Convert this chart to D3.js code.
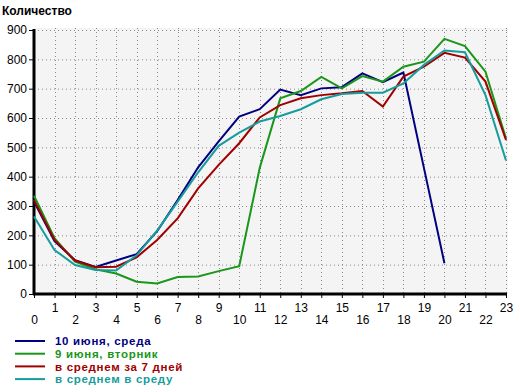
<!DOCTYPE html>
<html><head><meta charset="utf-8">
<script src="https://cdn.jsdelivr.net/npm/d3@7/dist/d3.min.js"></script>
<style>body{margin:0;background:#fff;}svg{display:block;}</style>
</head><body>
<script>
const hours = d3.range(0, 24);
const yTicks = [0,100,200,300,400,500,600,700,800,900];
const seriesNames = ["10 июня, среда","9 июня, вторник","в среднем за 7 дней","в среднем в среду"];
const seriesColors = ["#000080","#1a961a","#a00000","#169c9c"];
const wed10 = [315,180,115,92,114,136,214,320,432,520,605,630,697,678,701,705,752,722,755,430,105];
const tue9  = [335,190,110,84,70,42,36,58,60,78,95,430,667,692,740,701,743,724,775,792,870,845,758,530];
const avg7  = [320,184,114,91,93,125,184,258,360,440,514,602,644,667,678,684,692,639,741,775,822,806,724,525];
const avgWed= [264,150,99,82,80,132,216,315,415,505,550,588,607,630,664,682,686,686,718,781,830,824,678,455];
const allSeries = [wed10, tue9, avg7, avgWed];

const W = 520, H = 392;
const svg = d3.select("body").append("svg").attr("width", W).attr("height", H);
const x = d3.scaleLinear().domain([0,23]).range([34,506]);
const y = d3.scaleLinear().domain([0,900]).range([294,30]);

svg.append("rect").attr("x",34).attr("y",28).attr("width",474).attr("height",266).attr("fill","#f4f4f4");

// grid
svg.append("g").selectAll("line").data(yTicks.slice(1)).join("line")
  .attr("x1",34).attr("x2",507).attr("y1",d=>y(d)+0.5).attr("y2",d=>y(d)+0.5)
  .attr("stroke","#888").attr("stroke-dasharray","1,3");
svg.append("g").selectAll("line").data(hours.slice(1)).join("line")
  .attr("x1",d=>Math.round(x(d))+0.5).attr("x2",d=>Math.round(x(d))+0.5).attr("y1",28).attr("y2",294)
  .attr("stroke","#888").attr("stroke-dasharray","1,3");

svg.append("text").attr("x",2).attr("y",15).text("Количество")
  .attr("font-family","Liberation Sans, Arial, sans-serif").attr("font-weight","bold").attr("font-size",12);

// y axis
const ya = svg.append("g").attr("transform","translate(34,0)")
  .call(d3.axisLeft(y).tickValues(yTicks).tickSize(5).tickPadding(2));
ya.select(".domain").remove();
ya.selectAll("text").attr("font-family","Liberation Sans, Arial, sans-serif").attr("font-size",12).attr("fill","#000");
svg.append("line").attr("x1",34).attr("x2",34).attr("y1",29).attr("y2",295).attr("stroke","#000").attr("stroke-width",3);

// x axis
const xa = svg.append("g").attr("transform","translate(0,294)")
  .call(d3.axisBottom(x).tickValues(hours).tickSize(4).tickFormat(d=>d));
xa.select(".domain").remove();
xa.selectAll("text").attr("font-family","Liberation Sans, Arial, sans-serif").attr("font-size",12).attr("fill","#000")
  .attr("dy", d => d%2===0 ? "1.9em" : "0.95em");
svg.append("line").attr("x1",33).attr("x2",507).attr("y1",294).attr("y2",294).attr("stroke","#000").attr("stroke-width",3);

// lines
const line = d3.line().x((d,i)=>x(i)).y(d=>y(d));
allSeries.forEach((s,k)=>{
  svg.append("path").datum(s).attr("d",line).attr("fill","none")
    .attr("stroke",seriesColors[k]).attr("stroke-width",2);
});

// legend
const lg = svg.append("g");
seriesNames.forEach((n,k)=>{
  const yy = 341 + k*12.7;
  lg.append("line").attr("x1",15).attr("x2",45).attr("y1",yy).attr("y2",yy).attr("stroke",seriesColors[k]).attr("stroke-width",2);
  lg.append("text").attr("x",55).attr("y",yy+4.3).text(n).attr("fill",seriesColors[k])
    .attr("font-family","Liberation Sans, Arial, sans-serif").attr("font-weight","bold").attr("font-size",11.5)
    .attr("letter-spacing","0.7px");
});
</script>
</body></html>
